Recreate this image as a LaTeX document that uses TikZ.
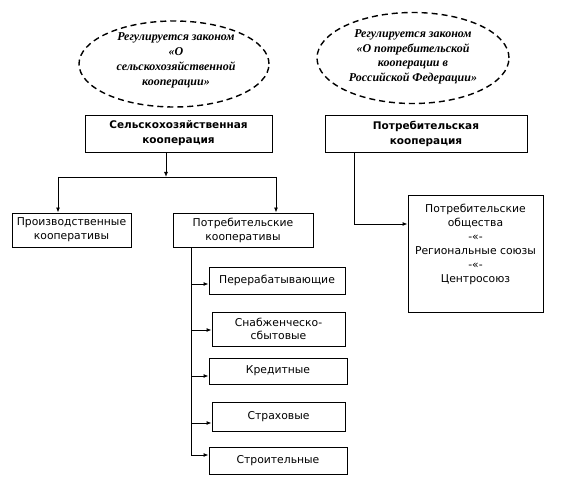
\documentclass[tikz,border=0pt]{standalone}
\usepackage{fontspec}
\setmainfont{Liberation Serif}
\newfontfamily\boxfont{DejaVu Sans}
\usetikzlibrary{shapes.geometric,arrows.meta}
\begin{document}
\begin{tikzpicture}[x=1pt,y=-1pt,
  box/.style={draw,line width=0.9pt,inner sep=0pt,align=center,font=\boxfont\fontsize{10.8}{14}\selectfont},
  hbox/.style={box,font=\boxfont\bfseries\fontsize{10.5}{15}\selectfont},
  law/.style={draw,ellipse,dashed,dash pattern=on 6pt off 4pt,line width=1.4pt,inner sep=0pt},
  lawtext/.style={align=center,font=\bfseries\itshape\fontsize{12}{15}\selectfont},
  arr/.style={line width=0.9pt,-{Latex[length=5pt,width=4pt]}},
  ln/.style={line width=0.9pt}]
\useasboundingbox (0,0) rectangle (571,494);
\fill[white] (0,0) rectangle (571,494);
% ellipses
\node[law,minimum width=190pt,minimum height=86pt] (e1) at (174,64) {};
\node[lawtext] (t1) at (176,60) {Регулируется законом\\«О\\сельскохозяйственной\\кооперации»};
\node[law,minimum width=192pt,minimum height=91pt] (e2) at (413,58) {};
\node[lawtext,font=\bfseries\itshape\fontsize{12}{14.5}\selectfont] (t2) at (413,57) {Регулируется законом\\«О потребительской\\кооперации в\\Российской Федерации»};
% headers
\node[hbox,minimum width=187pt,minimum height=37pt] (sk) at (178.5,133.5) {Сельскохозяйственная\\кооперация};
\node[hbox,minimum width=202pt,minimum height=37pt] (pk) at (426,133.5) {Потребительская\\кооперация};
% second level
\node[box,minimum width=119pt,minimum height=34pt] (pr) at (71.5,230) {Производственные\\кооперативы};
\node[box,minimum width=140pt,minimum height=34pt] (pot) at (243,230) {Потребительские\\кооперативы};
\node[box,minimum width=135pt,minimum height=117pt] (ob) at (475.5,253.5) {};
\node[align=center,inner sep=0pt,font=\boxfont\fontsize{10.8}{14}\selectfont] (obt) at (475.5,244) {Потребительские\\общества\\-«-\\Региональные союзы\\-«-\\Центросоюз};
% kinds
\node[box,minimum width=136pt,minimum height=27pt] (b1) at (277,280.5) {Перерабатывающие};
\node[box,minimum width=133pt,minimum height=34pt,font=\boxfont\fontsize{10.8}{13}\selectfont] (b2) at (278.5,329) {Снабженческо-\\сбытовые};
\node[box,minimum width=138pt,minimum height=26pt] (b3) at (278,371) {Кредитные};
\node[box,minimum width=133pt,minimum height=29pt] (b4) at (278.5,416.5) {Страховые};
\node[box,minimum width=138pt,minimum height=27pt] (b5) at (278,460.5) {Строительные};
% connectors left
\coordinate (j) at (166,177);
\coordinate (jl) at (58,177);
\coordinate (jr) at (276,177);
\draw[arr] (sk.south -| j) -- (j);
\draw[ln] (jl) -- (jr);
\draw[arr] (jl) -- (jl |- pr.north);
\draw[arr] (jr) -- (jr |- pot.north);
\coordinate (v) at (191,247);
\coordinate (v5) at (191,455);
\draw[ln] (pot.south -| v) -- (v5);
\draw[arr] (191,284) -- (b1.west |- 0,284);
\draw[arr] (191,330) -- (b2.west |- 0,330);
\draw[arr] (191,376) -- (b3.west |- 0,376);
\draw[arr] (191,423) -- (b4.west |- 0,423);
\draw[arr] (v5) -- (b5.west |- v5);
% connectors right
\coordinate (r) at (354,224);
\draw[arr] (pk.south -| r) -- (r) -- (ob.west |- r);
\end{tikzpicture}
\end{document}
